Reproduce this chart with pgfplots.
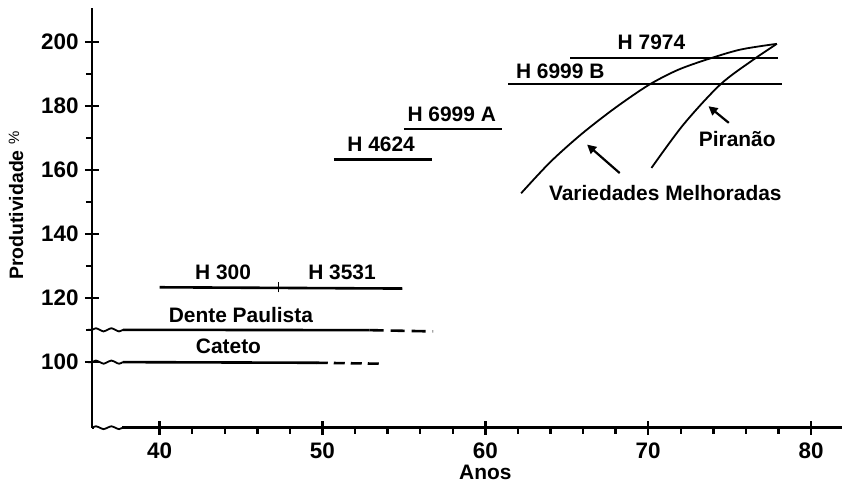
\documentclass[border=0pt]{standalone}
\usepackage{fontspec}
\setmainfont{Liberation Sans}
\usepackage{pgfplots}
\pgfplotsset{compat=1.18}
\usetikzlibrary{arrows.meta}
\tikzset{lab/.style={font=\fontsize{21}{21}\selectfont\bfseries, inner sep=0pt}}
\begin{document}
\begin{tikzpicture}
\begin{axis}[
  name=ax, scale only axis, width=750bp, height=420bp,
  xmin=35.85, xmax=81.9, ymin=79.5, ymax=210.8,
  axis lines=left, axis line style={-, line width=2.8bp},
  clip=false,
  xtick={40,50,60,70,80}, ytick={100,120,...,200},
  tick align=center, major tick length=14bp,
  tick style={line width=2.4bp, black},
  extra x ticks={42,44,46,48,52,54,56,58,62,64,66,68,72,74,76,78},
  extra y ticks={110,130,150,170,190},
  extra tick style={tick align=outside, major tick length=6bp, xticklabel={}, yticklabel={}},
  /pgf/number format/assume math mode=true,
  tick label style={font=\fontsize{22.5}{22.5}\selectfont\bfseries},
  xticklabel style={yshift=-5bp},
  yticklabel style={xshift=-3bp},
]
% squiggles
\addplot[white, line width=5bp, forget plot] coordinates {(35.97,79.5) (37.7,79.5)};
\addplot[black, line width=1.8bp, smooth] coordinates {(35.85,79.5) (36.09,79.95) (36.33,79.5) (36.56,79.05) (36.80,79.5) (37.04,79.95) (37.28,79.5) (37.51,79.05) (37.75,79.5) (38.2,79.5)};
\addplot[black, line width=1.8bp, smooth] coordinates {(35.6,110.1) (35.85,110.1) (36.09,110.6) (36.33,110.1) (36.56,109.6) (36.80,110.1) (37.04,110.6) (37.28,110.1) (37.51,109.6) (37.75,110.1)};
\addplot[black, line width=1.8bp, smooth] coordinates {(35.6,100) (35.85,100) (36.09,100.5) (36.33,100) (36.56,99.5) (36.80,100) (37.04,100.5) (37.28,100) (37.51,99.5) (37.75,100)};
% Cateto
\addplot[black, line width=2.6bp] coordinates {(37.75,100) (49.65,99.8)};
\addplot[black, line width=2.6bp, dash pattern=on 11bp off 6bp] coordinates {(49.65,99.8) (53.55,99.5)};
% Dente Paulista
\addplot[black, line width=2.6bp] coordinates {(37.75,110.1) (52.9,110.0)};
\addplot[black, line width=2.6bp, dash pattern=on 14bp off 7bp] coordinates {(52.9,110.0) (56.8,109.6)};
% H300 / H3531
\addplot[black, line width=2.6bp] coordinates {(40,123.4) (54.9,123.0)};
\addplot[black, line width=1.6bp] coordinates {(47.3,121.8) (47.3,125.0)};
% H4624
\addplot[black, line width=2.6bp] coordinates {(50.7,163.4) (56.7,163.4)};
% H6999A
\addplot[black, line width=2.6bp] coordinates {(55.0,172.9) (61.0,172.9)};
% H6999B
\addplot[black, line width=2.6bp] coordinates {(61.4,187.0) (78.2,187.0)};
% H7974
\addplot[black, line width=2.6bp] coordinates {(65.2,195.1) (78.0,195.1)};
% Variedades Melhoradas
\addplot[black, line width=1.8bp, smooth] coordinates {(62.2,152.8) (64.0,162.6) (65.93,171.4) (67.98,179.5) (70.02,186.6) (71.8,191.3) (73.6,194.6) (75.66,197.7) (77.9,199.5)};
% Piranao
\addplot[black, line width=1.8bp, smooth] coordinates {(70.2,160.7) (72.17,174.3) (74.43,186.8) (76.47,194.6) (77.9,199.5)};
% arrows
\addplot[black, line width=2.2bp, -{Triangle[length=9bp,width=9bp]}] coordinates {(68.25,159.1) (66.25,168.0)};
\addplot[black, line width=2.2bp, -{Triangle[length=9bp,width=9bp]}] coordinates {(74.95,174.8) (73.7,180.0)};
% labels
\node[lab] at (axis cs:70.2,200.1) {H 7974};
\node[lab] at (axis cs:64.6,190.9) {H 6999 B};
\node[lab] at (axis cs:57.94,177.6) {H 6999 A};
\node[lab] at (axis cs:53.6,168.0) {H 4624};
\node[lab] at (axis cs:43.9,128.1) {H 300};
\node[lab] at (axis cs:51.2,128.1) {H 3531};
\node[lab] at (axis cs:44.99,114.6) {Dente Paulista};
\node[lab] at (axis cs:44.23,104.9) {Cateto};
\node[lab] at (axis cs:75.47,169.6) {Piranão};
\node[lab] at (axis cs:71.05,153.0) {Variedades Melhoradas};
\node[lab] at (axis cs:60.0,65.6) {Anos};
\node[lab, rotate=90, font=\fontsize{19.5}{19.5}\selectfont\bfseries] at (axis cs:31.19,148.9) {Produtividade \raisebox{4bp}{\fontsize{15}{15}\selectfont\mdseries\%}};
\end{axis}
\pgfresetboundingbox
\path[use as bounding box] ([shift={(-92bp,-57.3bp)}]ax.south west) rectangle ([shift={(750bp,427.7bp)}]ax.south west);
\end{tikzpicture}
\end{document}
